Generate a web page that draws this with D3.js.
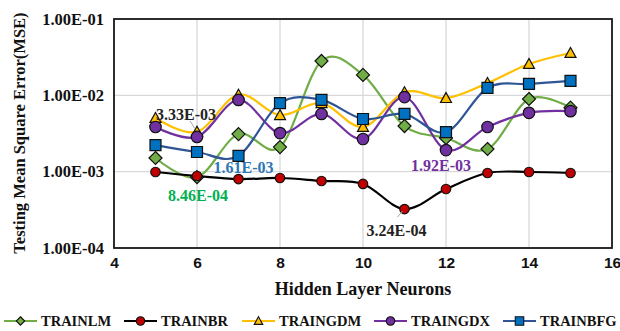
<!DOCTYPE html>
<html>
<head>
<meta charset="utf-8">
<script src="https://cdn.jsdelivr.net/npm/d3@7/dist/d3.min.js"></script>
<style>
  html, body { margin: 0; padding: 0; background: #fff; }
  svg { display: block; }
</style>
</head>
<body>
<svg id="chart" width="620" height="331"></svg>
<script>
// Hidden layer neuron counts
const neurons = [5, 6, 7, 8, 9, 10, 11, 12, 13, 14, 15];

// Testing MSE per training function
const trainlm  = [1.51e-3, 8.46e-4, 3.11e-3, 2.10e-3, 2.82e-2, 1.85e-2, 3.96e-3, 2.76e-3, 1.98e-3, 8.95e-3, 6.9e-3];
const trainbr  = [9.9e-4, 8.77e-4, 8.0e-4, 8.26e-4, 7.55e-4, 6.9e-4, 3.24e-4, 5.93e-4, 9.6e-4, 9.9e-4, 9.6e-4];
const traingdm = [5.04e-3, 3.33e-3, 1.02e-2, 5.5e-3, 7.9e-3, 3.85e-3, 1.1e-2, 9.2e-3, 1.45e-2, 2.57e-2, 3.59e-2];
const traingdx = [3.85e-3, 2.85e-3, 8.7e-3, 3.2e-3, 5.7e-3, 2.68e-3, 9.5e-3, 1.92e-3, 3.85e-3, 5.9e-3, 6.2e-3];
const trainbfg = [2.23e-3, 1.81e-3, 1.61e-3, 7.9e-3, 8.7e-3, 4.9e-3, 5.7e-3, 3.3e-3, 1.25e-2, 1.41e-2, 1.55e-2];

const seriesNames = ["TRAINLM", "TRAINBR", "TRAINGDM", "TRAINGDX", "TRAINBFG"];
const xTicks = [4, 6, 8, 10, 12, 14, 16];
const yTicks = [1e-4, 1e-3, 1e-2, 1e-1];
const yTickLabels = ["1.00E-04", "1.00E-03", "1.00E-02", "1.00E-01"];

// Annotated points: series index, point index
const callouts = [
  { s: 2, i: 1 },
  { s: 0, i: 1 },
  { s: 4, i: 2 },
  { s: 3, i: 7 },
  { s: 1, i: 6 }
];

const seriesValues = [trainlm, trainbr, traingdm, traingdx, trainbfg];

const styles = [
  { line: "#70ad47", fill: "#70ad47", shape: "diamond", size: 13, label: "#00b050" },
  { line: "#000000", fill: "#c00000", shape: "circle", size: 9.5, label: "#222222" },
  { line: "#ffc000", fill: "#ffc000", shape: "triangle", size: 11, label: "#222222" },
  { line: "#7030a0", fill: "#7030a0", shape: "circle", size: 11.5, label: "#7030a0" },
  { line: "#2f5597", fill: "#0070c0", shape: "square", size: 11, label: "#2e75b6" }
];

// label placement relative to the point (pixels)
const calloutOffsets = [
  { dx: -11, dy: -17, leader: [[-7, -11], [-2, -3]] },
  { dx: 1, dy: 18 },
  { dx: 5, dy: 12 },
  { dx: -5, dy: 15 },
  { dx: -8, dy: 21, leader: [[-7, 8], [-2, 2]] }
];

const svg = d3.select("#chart");
const serif = "'Liberation Serif', 'Times New Roman', serif";
const sans = "'Liberation Sans', Arial, sans-serif";

const plot = { left: 114, right: 612, top: 19, bottom: 248 };
const x = d3.scaleLinear().domain([4, 16]).range([plot.left, plot.right]);
const y = d3.scaleLog().domain([1e-4, 1e-1]).range([plot.bottom, plot.top]);

// grid
const grid = svg.append("g");
grid.selectAll("line.v").data(xTicks).join("line")
  .attr("x1", d => x(d)).attr("x2", d => x(d))
  .attr("y1", plot.top).attr("y2", plot.bottom)
  .attr("stroke", "#d9d9d9").attr("stroke-width", 1.3);
grid.selectAll("line.h").data(yTicks).join("line")
  .attr("x1", plot.left).attr("x2", plot.right)
  .attr("y1", d => y(d)).attr("y2", d => y(d))
  .attr("stroke", "#d9d9d9").attr("stroke-width", 1.3);

// frame
svg.append("rect")
  .attr("x", plot.left).attr("y", plot.top)
  .attr("width", plot.right - plot.left).attr("height", plot.bottom - plot.top)
  .attr("fill", "none").attr("stroke", "#1a1a1a").attr("stroke-width", 1.8);

// axes
const xAxis = svg.append("g").attr("transform", `translate(0,${plot.bottom})`)
  .call(d3.axisBottom(x).tickValues(xTicks).tickSize(0).tickPadding(9).tickFormat(d3.format("d")));
xAxis.select(".domain").remove();
xAxis.selectAll("text").attr("font-family", sans).attr("font-weight", "bold")
  .attr("font-size", 15.5).attr("fill", "#111");

const yAxis = svg.append("g").attr("transform", `translate(${plot.left},0)`)
  .call(d3.axisLeft(y).tickValues(yTicks).tickSize(0).tickPadding(10)
    .tickFormat((d, i) => yTickLabels[i]));
yAxis.select(".domain").remove();
yAxis.selectAll("text").attr("font-family", serif).attr("font-weight", "bold")
  .attr("font-size", 16.5).attr("fill", "#111");

// axis titles
svg.append("text")
  .attr("x", 363).attr("y", 295)
  .attr("text-anchor", "middle")
  .attr("font-family", serif).attr("font-weight", "bold").attr("font-size", 18)
  .attr("fill", "#111")
  .text("Hidden Layer Neurons");

svg.append("text")
  .attr("transform", "translate(25,133) rotate(-90)")
  .attr("text-anchor", "middle")
  .attr("font-family", serif).attr("font-weight", "bold").attr("font-size", 16.5)
  .attr("fill", "#111")
  .text("Testing Mean Square Error(MSE)");

// marker drawing
function symbolPath(shape, size) {
  const h = size / 2;
  if (shape === "diamond") return `M0,${-h}L${h},0L0,${h}L${-h},0Z`;
  if (shape === "square") return `M${-h},${-h}H${h}V${h}H${-h}Z`;
  if (shape === "triangle") return `M0,${-h}L${h},${h * 0.8}L${-h},${h * 0.8}Z`;
  return `M${h},0A${h},${h} 0 1,1 ${-h},0A${h},${h} 0 1,1 ${h},0Z`;
}

const line = d3.line()
  .x((d, i) => x(neurons[i]))
  .y(d => y(d))
  .curve(d3.curveCardinal.tension(0));

seriesValues.forEach((vals, s) => {
  const st = styles[s];
  const g = svg.append("g");
  g.append("path").datum(vals)
    .attr("d", line)
    .attr("fill", "none").attr("stroke", st.line).attr("stroke-width", 2.2);
  g.selectAll("path.m").data(vals).join("path")
    .attr("class", "m")
    .attr("transform", (d, i) => `translate(${x(neurons[i])},${y(d)})`)
    .attr("d", symbolPath(st.shape, st.size))
    .attr("fill", st.fill).attr("stroke", "#111").attr("stroke-width", 1.2);
});

// value callouts
const fmt = v => {
  const e = Math.floor(Math.log10(v));
  const m = v / Math.pow(10, e);
  const es = (e < 0 ? "-" : "+") + String(Math.abs(e)).padStart(2, "0");
  return m.toFixed(2) + "E" + es;
};

callouts.forEach((c, k) => {
  const v = seriesValues[c.s][c.i];
  const px = x(neurons[c.i]), py = y(v);
  const off = calloutOffsets[k];
  if (off.leader) {
    svg.append("line")
      .attr("x1", px + off.leader[0][0]).attr("y1", py + off.leader[0][1])
      .attr("x2", px + off.leader[1][0]).attr("y2", py + off.leader[1][1])
      .attr("stroke", "#a6a6a6").attr("stroke-width", 1);
  }
  svg.append("text")
    .attr("x", px + off.dx).attr("y", py + off.dy)
    .attr("dy", "0.35em")
    .attr("text-anchor", "middle")
    .attr("font-family", serif).attr("font-weight", "bold").attr("font-size", 16)
    .attr("fill", styles[c.s].label)
    .text(fmt(v));
});

// legend
const legendX = [4, 124, 242, 374, 503];
const legend = svg.append("g").attr("transform", "translate(0,321)");
seriesNames.forEach((name, s) => {
  const st = styles[s];
  const g = legend.append("g").attr("transform", `translate(${legendX[s]},0)`);
  g.append("line").attr("x1", 0).attr("x2", 33).attr("y1", 0).attr("y2", 0)
    .attr("stroke", st.line).attr("stroke-width", 2.2);
  g.append("path")
    .attr("transform", "translate(16.5,0)")
    .attr("d", symbolPath(st.shape, 8.5))
    .attr("fill", st.fill).attr("stroke", "#111").attr("stroke-width", 1.1);
  g.append("text")
    .attr("x", 37).attr("y", 0).attr("dy", "0.35em")
    .attr("font-family", serif).attr("font-weight", "bold").attr("font-size", 14.5)
    .attr("fill", "#111")
    .text(name);
});
</script>
</body>
</html>
